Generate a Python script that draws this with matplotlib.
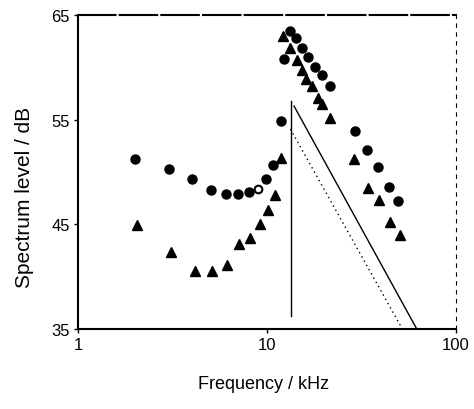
import matplotlib
matplotlib.use("Agg")
import matplotlib.pyplot as plt

# Data
circ_f = [2.0, 3.03, 4.03, 5.04, 6.04, 7.0, 8.06, 9.88, 10.8, 11.8, 12.3, 13.2, 14.2,
          15.3, 16.5, 17.9, 19.5, 21.5, 29.2, 34.0, 38.8, 44.2, 49.5]
circ_db = [51.2, 50.3, 49.3, 48.3, 47.9, 47.9, 48.1, 49.3, 50.7, 54.9, 60.8, 63.5, 62.8,
           61.8, 61.0, 60.0, 59.3, 58.2, 53.9, 52.1, 50.5, 48.6, 47.2]
open_f = [9.0]
open_db = [48.4]
tri_f = [2.05, 3.1, 4.16, 5.1, 6.12, 7.1, 8.13, 9.18, 10.1, 11.0, 11.9, 12.1, 13.2,
         14.4, 15.3, 16.1, 17.2, 18.6, 19.5, 21.5, 29.0, 34.4, 39.3, 44.8, 50.6]
tri_db = [44.9, 42.4, 40.5, 40.5, 41.1, 43.1, 43.7, 45.0, 46.4, 47.8, 51.3, 63.0, 61.8,
          60.7, 59.7, 58.9, 58.2, 57.1, 56.5, 55.2, 51.2, 48.5, 47.3, 45.2, 44.0]
vert_f = [13.4, 13.4]
vert_db = [36.2, 56.8]
solid_f = [13.9, 62.0]
solid_db = [56.3, 35.0]
dot_f = [13.3, 52.0]
dot_db = [54.1, 35.0]

xticks = [1, 10, 100]
xticklabels = ["1", "10", "100"]
yticks = [35, 45, 55, 65]
yticklabels = ["35", "45", "55", "65"]

plt.rcParams['font.family'] = ['Liberation Sans', 'DejaVu Sans']

fig = plt.figure(figsize=(4.74, 4.10), dpi=100)
ax = fig.add_axes([78/474, 1-330/410, (456-78)/474, (330-16)/410])

ax.plot(vert_f, vert_db, color='black', lw=1.0)
ax.plot(solid_f, solid_db, color='black', lw=1.0)
ax.plot(dot_f, dot_db, color='black', lw=1.0, linestyle=(0, (1, 2.5)))
ax.plot(circ_f, circ_db, 'o', color='black', ms=6.5, mec='black')
ax.plot(open_f, open_db, 'o', mfc='white', mec='black', ms=5.5, mew=1.5)
ax.plot(tri_f, tri_db, '^', color='black', ms=6.5)

ax.set_xscale('log')
ax.set_xlim(1, 100)
ax.set_ylim(35, 65)
ax.set_xticks(xticks)
ax.set_xticklabels(xticklabels)
ax.minorticks_off()
ax.set_yticks(yticks)
ax.set_yticklabels(yticklabels)
ax.tick_params(direction='out', length=3, width=1, labelsize=12, pad=3)

for s in ['left', 'bottom']:
    ax.spines[s].set_linewidth(1.5)
ax.spines['top'].set_linewidth(1.5)
ax.spines['top'].set_linestyle((0, (18, 2)))
ax.spines['right'].set_linewidth(0.8)
ax.spines['right'].set_linestyle((0, (3, 5)))

fig.text(264/474, 1-385/410, "Frequency / kHz", ha='center', va='center', fontsize=13)
fig.text(25/474, 1-197/410, "Spectrum level / dB", ha='center', va='center',
         rotation=90, fontsize=15)

fig.savefig("out.png", dpi=100, facecolor='white')
